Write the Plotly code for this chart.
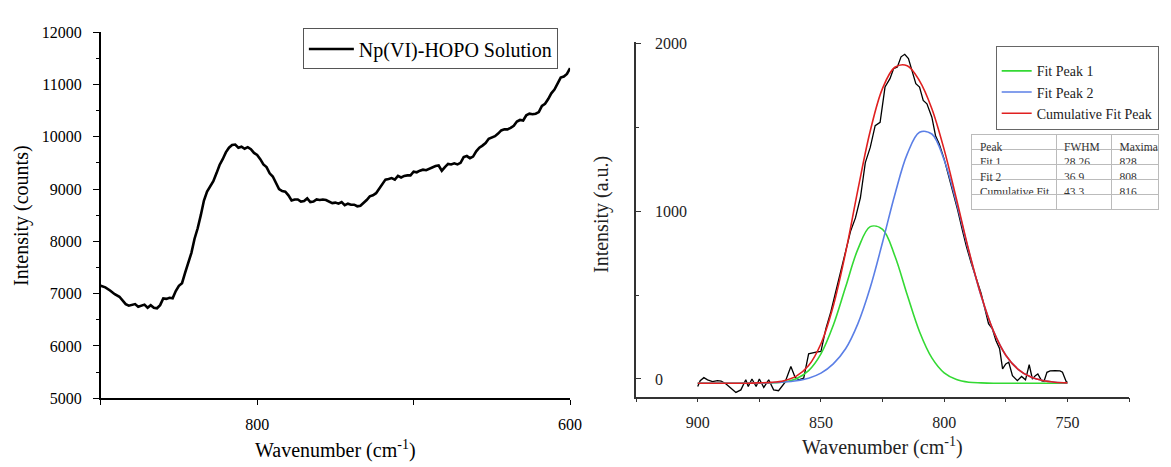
import plotly.graph_objects as go

# ---------------- Left panel data ----------------
left_x = [900, 897, 894, 891, 888, 886, 884, 882, 880, 878, 876, 874, 872, 870, 868, 866, 864, 862, 860, 858,
          856, 854, 852, 850, 848, 846, 844, 842, 840, 838, 836, 834, 832, 830, 828, 826, 824, 822, 820, 818,
          816, 814, 812, 810, 808, 806, 804, 802, 800, 798, 796, 794, 792, 790, 788, 786, 784, 782, 780, 778,
          776, 774, 772, 770, 768, 766, 764, 762, 760, 758, 756, 754, 752, 750, 748, 746, 744, 742, 740, 738,
          736, 734, 732, 730, 728, 726, 724, 722, 720, 718, 716, 714, 712, 710, 708, 706, 704, 702, 700, 698,
          696, 694, 692, 690, 688, 686, 684, 682, 680, 678, 676, 674, 672, 670, 668, 666, 664, 662, 660, 658,
          656, 654, 652, 650, 648, 646, 644, 642, 640, 638, 636, 634, 632, 630, 628, 626, 624, 622, 620, 618,
          616, 614, 612, 610, 608, 606, 604, 602, 600]
left_y = [7150, 7120, 7060, 6990, 6940, 6870, 6800, 6770, 6790, 6800, 6750, 6770, 6790, 6730, 6780, 6730, 6720, 6780, 6910, 6900,
          6920, 6910, 7050, 7150, 7200, 7400, 7600, 7780, 8050, 8250, 8500, 8780, 8950, 9060, 9150, 9300, 9460, 9570, 9700, 9790,
          9840, 9850, 9790, 9810, 9770, 9800, 9760, 9690, 9650, 9570, 9470, 9420, 9300, 9240, 9130, 9000, 8960, 8950, 8880, 8780,
          8800, 8800, 8760, 8770, 8820, 8750, 8760, 8800, 8790, 8800, 8790, 8760, 8730, 8740, 8720, 8750, 8690, 8720, 8700, 8700,
          8670, 8680, 8730, 8790, 8860, 8880, 8920, 9010, 9080, 9180, 9190, 9210, 9180, 9250, 9220, 9250, 9260, 9260, 9330, 9320,
          9350, 9370, 9360, 9390, 9410, 9440, 9450, 9350, 9420, 9480, 9470, 9490, 9470, 9500, 9610, 9630, 9590, 9620, 9720, 9790,
          9830, 9880, 9960, 9980, 10010, 10060, 10120, 10140, 10140, 10170, 10210, 10290, 10320, 10310, 10410, 10440, 10430, 10440, 10470, 10590,
          10630, 10720, 10830, 10900, 11010, 11130, 11150, 11200, 11310]
left_name = "Np(VI)-HOPO Solution"
left_xticks = [800, 600]
left_xminor = [900, 700]

# ---------------- Right panel data ----------------
raw_x = [900, 899, 897.5, 896, 894, 892, 890.5, 888.5, 886.5, 884.5, 882.5, 880.5, 879.5, 878, 876.3, 875, 873.2, 871.2,
         869.2, 867.2, 864.6, 862.2, 860.5, 859, 857, 855, 852, 850, 848, 846, 844, 842, 840, 838, 836, 834, 832, 830,
         828, 826, 824, 822, 820.5, 819, 817.5, 816, 814.5, 813, 811.5, 810, 808.5, 807, 805, 803.5, 802, 800, 798,
         796, 794.5, 792.5, 791, 789, 787, 785, 783.5, 782, 780.5, 779, 777.5, 776.3, 775, 773.8, 772.3, 770.3, 768.6,
         767, 765.5, 764.2, 763, 762, 760.5, 759.5, 758.3, 757, 755, 753, 752, 750.5, 750]
raw_y = [-45, -10, 8, -5, -15, -10, -12, -30, -55, -80, -65, -5, -45, 0, -45, 0, -50, -5,
         -65, -70, -20, 75, 10, -5, 5, 150, 160, 165, 300, 400, 520, 640, 760, 880, 960, 1080, 1290, 1380,
         1510, 1530, 1740, 1790, 1850, 1860, 1920, 1935, 1910, 1830, 1760, 1740, 1660, 1640, 1560, 1450, 1400, 1310, 1200,
         1090, 1005, 880, 790, 690, 600, 510, 420, 330, 300, 230, 180, 60, 90, 100, 20, -10, 15,
         -5, 85, 0, 20, 30, -10, -15, 40, 48, 50, 48, 40, -15, -20]

fit_x = [900, 890, 880, 875, 870, 865, 860, 855, 850, 845, 840, 835, 830, 825, 820, 815, 810, 805, 800,
         795, 790, 785, 780, 775, 770, 765, 760, 755, 750]
fit1_y = [-25, -25, -25, -24, -23, -17, 2, 50, 150, 320, 548, 774, 908, 892, 733, 502, 282, 126, 37,
          -3, -19, -23, -25, -25, -25, -25, -25, -25, -25]
fit2_y = [-25, -25, -25, -24, -22, -18, -10, 5, 35, 90, 180, 330, 545, 815, 1100, 1340, 1470, 1460, 1305,
          1050, 760, 495, 285, 142, 58, 13, -9, -19, -23]
cum_y = [-25, -25, -25, -23, -20, -10, 17, 80, 210, 435, 753, 1129, 1478, 1732, 1858, 1867, 1777, 1611, 1367,
         1072, 766, 497, 285, 142, 58, 13, -9, -19, -23]
fit_names = ["Fit Peak 1", "Fit Peak 2", "Cumulative Fit Peak"]
fit_colors = ["#34d934", "#5b7fe6", "#e02020"]

right_xticks = [900, 850, 800, 750]
right_xminor = [925, 875, 825, 775, 725]
right_yticks = [0, 1000, 2000]
right_yminor = [500, 1500]

table_header = ["Peak", "FWHM", "Maxima"]
table_peak = ["Fit 1", "Fit 2", "Cumulative\u00a0Fit", ""]
table_fwhm = [28.26, 36.9, 43.3]
table_max = [828, 808, 816]

W, H = 1171, 467
SERIF = "Liberation Serif"

fig = go.Figure()

fig.add_trace(go.Scatter(x=left_x, y=left_y, mode="lines", name=left_name,
                         line=dict(color="black", width=2.6), xaxis="x", yaxis="y",
                         legend="legend"))

fig.add_trace(go.Scatter(x=raw_x, y=raw_y, mode="lines", showlegend=False,
                         line=dict(color="black", width=1.3), xaxis="x2", yaxis="y2"))
for ys, nm, col in zip([fit1_y, fit2_y, cum_y], fit_names, fit_colors):
    fig.add_trace(go.Scatter(x=fit_x, y=ys, mode="lines", name=nm,
                             line=dict(color=col, width=1.6, shape="spline", smoothing=1.0),
                             xaxis="x2", yaxis="y3", legend="legend2"))

cellfont = dict(family=SERIF, size=11.5, color="#333")
fig.add_trace(go.Table(
    domain=dict(x=[982 / W, 1.0], y=[0.40, 1 - 131 / H]),
    columnwidth=[85, 56, 48],
    header=dict(values=table_header, align="left", height=15, font=cellfont,
                fill_color="white", line=dict(color="#bbbbbb", width=1)),
    cells=dict(values=[table_peak,
                       [f"{v}" for v in table_fwhm] + [""],
                       [f"{v}" for v in table_max] + [""]],
               align="left", height=15, font=cellfont,
               fill_color="white", line=dict(color="#bbbbbb", width=1)),
))

tickfont = dict(family=SERIF, size=16, color="black")
rfont = dict(family=SERIF, size=16, color="#222")

fig.update_layout(
    width=W, height=H,
    margin=dict(l=0, r=0, t=0, b=0),
    paper_bgcolor="white", plot_bgcolor="white",
    font=dict(family=SERIF, color="black"),
    xaxis=dict(domain=[101.7 / W, 576 / W], range=[900, 600], anchor="y",
               tickmode="array", tickvals=left_xticks,
               ticks="outside", ticklen=5, tickcolor="black", tickwidth=1.3,
               minor=dict(tickmode="array", tickvals=left_xminor, ticks="outside", ticklen=5,
                          tickcolor="black", tickwidth=1.3),
               showline=True, linecolor="black", linewidth=1.5,
               showgrid=False, zeroline=False, tickfont=tickfont, ticklabelstandoff=6),
    yaxis=dict(domain=[1 - 405 / H, 1 - 25 / H], range=[5000, 12000], anchor="x",
               tickmode="linear", tick0=0, dtick=1000, tickformat="d",
               ticks="outside", ticklen=6, tickcolor="black", tickwidth=1.3,
               minor=dict(ticks="outside", ticklen=3, dtick=500, tick0=0, tickcolor="black"),
               showline=True, linecolor="black", linewidth=1.5,
               showgrid=False, zeroline=False, tickfont=tickfont, ticklabelstandoff=8),
    xaxis2=dict(domain=[642.7 / W, 1140.7 / W], range=[925, 725], anchor="y2",
                tickmode="array", tickvals=right_xticks,
                ticks="outside", ticklen=4, tickcolor="#333", tickwidth=1.3,
                minor=dict(tickmode="array", tickvals=right_xminor, ticks="outside", ticklen=4,
                           tickcolor="#333", tickwidth=1.3),
                showline=True, linecolor="#333", linewidth=1.6,
                showgrid=False, zeroline=False, tickfont=rfont, ticklabelstandoff=6),
    yaxis2=dict(domain=[1 - 403.3 / H, 1 - 35 / H], range=[-105, 2010], anchor="x2",
                tickmode="array", tickvals=right_yticks, showticklabels=False,
                ticks="inside", ticklen=5, tickcolor="#333", tickwidth=1.3,
                minor=dict(tickmode="array", ticks="inside", ticklen=3, tickvals=right_yminor,
                           tickcolor="#333"),
                showline=True, linecolor="#333", linewidth=1.6,
                showgrid=False, zeroline=False),
    yaxis3=dict(overlaying="y2", anchor="free", position=642.7 / W, side="right",
                range=[-105, 2010], tickmode="array", tickvals=right_yticks,
                ticks="", showline=False, showgrid=False, zeroline=False,
                tickfont=rfont, ticklabelstandoff=18),
    legend=dict(x=306 / W, y=1 - 42.5 / H, xanchor="left", yanchor="middle",
                bgcolor="white", bordercolor="#555", borderwidth=1,
                font=dict(family=SERIF, size=20, color="black"),
                itemwidth=45, tracegroupgap=0),
    legend2=dict(x=1006 / W, y=1 - 83.5 / H, xanchor="left", yanchor="middle",
                 bgcolor="white", bordercolor="#666", borderwidth=1,
                 font=dict(family=SERIF, size=14, color="#222"),
                 title=dict(text=" ", font=dict(family=SERIF, size=6)),
                 itemwidth=30, tracegroupgap=0),
    annotations=[
        dict(text="Wavenumber (cm<sup>-1</sup>)", x=339 / W, y=1 - 458 / H, xref="paper", yref="paper",
             showarrow=False, font=dict(family=SERIF, size=20, color="black"), xanchor="center", yanchor="middle"),
        dict(text="Intensity (counts)", x=21 / W, y=1 - 215 / H, xref="paper", yref="paper", textangle=-90,
             showarrow=False, font=dict(family=SERIF, size=20, color="black"), xanchor="center", yanchor="middle"),
        dict(text="Wavenumber (cm<sup>-1</sup>)", x=892 / W, y=1 - 455 / H, xref="paper", yref="paper",
             showarrow=False, font=dict(family=SERIF, size=20, color="#222"), xanchor="center", yanchor="middle"),
        dict(text="Intensity (a.u.)", x=607 / W, y=1 - 214 / H, xref="paper", yref="paper", textangle=-90,
             showarrow=False, font=dict(family=SERIF, size=20, color="#222"), xanchor="center", yanchor="middle"),
    ],
)

fig.write_html("out.html")
